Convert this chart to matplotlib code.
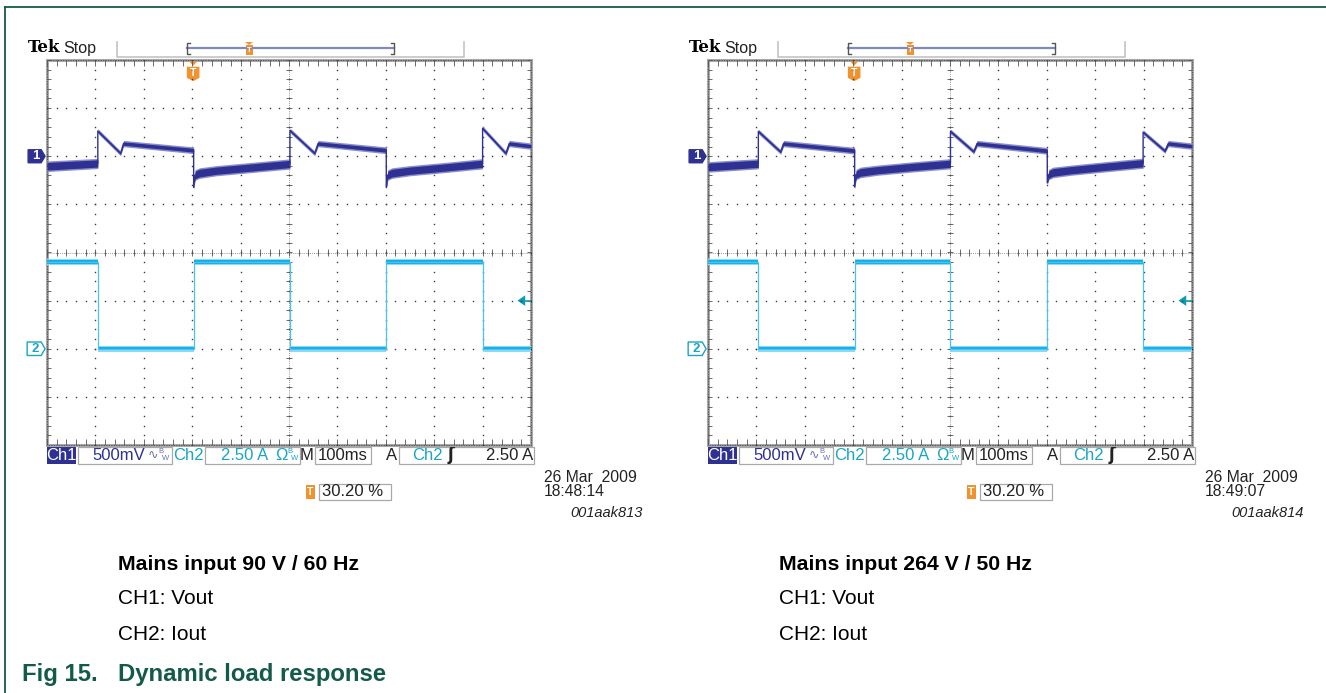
import matplotlib.pyplot as plt
from matplotlib.patches import Rectangle, Polygon
from matplotlib.collections import LineCollection
import numpy as np

W, H = 1326, 693

# ---- values (time in ms, 100 ms/div) ----
# CH1 = Vout, mV relative to the channel 1 marker (500 mV/div)
ch1_t_90v = [0, 105, 105, 152, 158, 303, 303, 306, 315, 350, 420, 502, 502, 553, 560, 701,
             701, 704, 713, 750, 820, 900, 900, 948, 955, 1000]
ch1_mv_90v = [-104, -75, 262, 30, 132, 62, -325, -195, -175, -150, -118, -80, 268, 30, 132, 62,
              -325, -195, -175, -150, -118, -78, 290, 30, 132, 105]
ch1_t_264v = [0, 104, 104, 150, 156, 303, 303, 306, 315, 350, 420, 501, 501, 549, 556, 701,
              701, 704, 713, 750, 820, 899, 899, 944, 951, 1000]
ch1_mv_264v = [-111, -78, 258, 45, 132, 58, -320, -190, -168, -145, -112, -78, 258, 48, 132, 56,
               -277, -190, -168, -145, -110, -72, 250, 55, 132, 105]
# half width of the noisy trace, mV
ch1_band = [40, 38, 10, 10, 18, 20, 6, 40, 40, 38, 38, 38, 10, 10, 18, 20,
            6, 40, 40, 38, 38, 38, 10, 10, 18, 18]

# CH2 = Iout, A (2.50 A/div)
ch2_t_90v = [0, 105, 105, 303, 303, 502, 502, 701, 701, 900, 900, 1000]
ch2_t_264v = [0, 104, 104, 303, 303, 501, 501, 701, 701, 899, 899, 1000]
ch2_amp = [4.5, 4.5, 0.0, 0.0, 4.5, 4.5, 0.0, 0.0, 4.5, 4.5, 0.0, 0.0]

trig_ms = 302
trig_level_a = 2.5

captions = ["Mains input 90 V / 60 Hz", "Mains input 264 V / 50 Hz"]
times = ["18:48:14", "18:49:07"]
codes = ["001aak813", "001aak814"]
date = "26 Mar  2009"

CH1C = '#2e3192'
CH2C = '#12b0e8'
CH2T = '#19a5c4'
ORANGE = '#f0922e'
GREEN = '#135a48'
FONT = 'Liberation Sans'

fig = plt.figure(figsize=(W / 100, H / 100), dpi=100)
ov = fig.add_axes([0, 0, 1, 1])
ov.set_xlim(0, W)
ov.set_ylim(H, 0)
ov.axis('off')

# page frame
ov.plot([5, W], [7, 7], color=GREEN, lw=1.3)
ov.plot([5, 5], [7, H], color=GREEN, lw=1.3)


def txt(x, y, s, **kw):
    kw.setdefault('family', FONT)
    kw.setdefault('va', 'center')
    ov.text(x, y, s, **kw)


def scope(dx, ch1_t, ch1_mv, ch2_t, time_s, code, caption):
    gx0, gy0, gw, gh = 47 + dx, 60, 484, 385
    ax = fig.add_axes([gx0 / W, 1 - (gy0 + gh) / H, gw / W, gh / H])
    ax.set_xlim(0, 1000)
    ax.set_ylim(-4, 4)
    ax.axis('off')

    xs = np.arange(0, 1001, 20)
    ys = np.arange(-4, 4.001, 0.2)
    dot = dict(ls='none', marker='s', ms=1.0, mew=0, color='#3a3a3a')
    for k in range(1, 10):
        ax.plot(np.full(len(ys), k * 100), ys, **dot)
    for j in range(-3, 4):
        ax.plot(xs, np.full(len(xs), j), **dot)
    # centre lines with ticks
    ax.plot([500, 500], [-4, 4], color='#777777', lw=0.6, ls=(0, (1, 1.5)))
    ax.plot([0, 1000], [0, 0], color='#777777', lw=0.6, ls=(0, (1, 1.5)))
    segs = [[(494, y), (506, y)] for y in ys] + [[(x, -0.07), (x, 0.07)] for x in xs]
    # edge ticks
    segs += [[(0, y), (8, y)] for y in ys] + [[(992, y), (1000, y)] for y in ys]
    segs += [[(x, 3.88), (x, 4)] for x in xs] + [[(x, -4), (x, -3.88)] for x in xs]
    ax.add_collection(LineCollection(segs, colors='#555555', linewidths=0.6))
    ax.add_patch(Rectangle((0, -4), 1000, 8, fill=False, ec='#a8a8a8', lw=2.2, clip_on=False))
    ax.add_patch(Rectangle((0, -4), 1000, 8, fill=False, ec='#333333', lw=0.6,
                           ls=(0, (1, 1)), clip_on=False))

    # channel 1 trace (solid core plus lighter fringe of the noise)
    t1 = np.array(ch1_t)
    v1 = 2 + np.array(ch1_mv) / 500
    b1 = np.array(ch1_band) / 500
    ax.fill_between(t1, v1 - b1 - 0.03, v1 + b1 + 0.03, color='#8a8fcb', lw=0, zorder=4)
    ax.fill_between(t1, v1 - b1, v1 + b1, color=CH1C, lw=0, zorder=5)
    ax.plot(t1, v1, color=CH1C, lw=1.0, zorder=5)

    # channel 2 trace
    t2 = np.array(ch2_t)
    v2 = -2 + np.array(ch2_amp) / 2.5
    ax.fill_between(t2, v2 - 0.06, v2 + 0.06, color='#8fd9f5', lw=0, zorder=4)
    ax.fill_between(t2, v2 - 0.035, v2 + 0.035, color=CH2C, lw=0, zorder=5)
    ax.plot(t2, v2, color='#4cc3ee', lw=0.9, zorder=5)

    # channel markers
    ax.add_patch(Polygon([(-39, 1.865), (-12, 1.865), (-4, 2), (-12, 2.135), (-39, 2.135)],
                         closed=True, fc=CH1C, ec=CH1C, clip_on=False))
    ax.text(-23, 2, "1", color='white', fontsize=9.5, fontweight='bold', family=FONT,
            ha='center', va='center')
    ax.add_patch(Polygon([(-41, -2.14), (-12, -2.14), (-4, -2), (-12, -1.86), (-41, -1.86)],
                         closed=True, fc='white', ec=CH2T, lw=1, clip_on=False))
    ax.text(-24, -2, "2", color=CH2T, fontsize=9.5, fontweight='bold', family=FONT,
            ha='center', va='center')
    # trigger level arrow
    ylev = -2 + trig_level_a / 2.5
    ax.add_patch(Polygon([(972, ylev), (988, ylev + 0.11), (988, ylev - 0.11)],
                         closed=True, fc='#0a9cb4', ec='none', clip_on=False))
    ax.plot([986, 1000], [ylev, ylev], color='#0a9cb4', lw=1.2)
    # trigger position marker
    ax.add_patch(Polygon([(294, 3.97), (310, 3.97), (302, 3.88)], closed=True,
                         fc=ORANGE, ec='none', clip_on=False))
    ax.add_patch(Polygon([(289, 3.86), (315, 3.86), (315, 3.63), (302, 3.56), (289, 3.63)],
                         closed=True, fc=ORANGE, ec='none', clip_on=False))
    ax.text(302, 3.73, "T", color='white', fontsize=7.5, fontweight='bold', family=FONT,
            ha='center', va='center')

    # header
    txt(28 + dx, 48, "Tek", fontsize=12, fontweight='bold', family='DejaVu Serif')
    txt(63 + dx, 48, "Stop", fontsize=11.5, color='#222222')
    ov.plot([117 + dx, 117 + dx, 464 + dx, 464 + dx], [42, 57, 57, 42], color='#c4c4c4', lw=1.2)
    ov.plot([187 + dx, 394 + dx], [48, 48], color='#8088c0', lw=1.6)
    for bx, d in [(187, 3), (394, -3)]:
        ov.plot([bx + dx + d, bx + dx, bx + dx, bx + dx + d], [43, 43, 54, 54], color='#555555', lw=1)
    ov.add_patch(Polygon([(245 + dx, 42), (253 + dx, 42), (249 + dx, 45)], closed=True, fc=ORANGE))
    ov.add_patch(Rectangle((245.5 + dx, 45), 7, 10, fc=ORANGE, ec='none'))
    txt(249 + dx, 50, "T", fontsize=5.5, color='white', fontweight='bold', ha='center')

    # status bar
    yb, hb, yc = 447, 17, 455.5
    fs = 12
    ov.add_patch(Rectangle((46.5 + dx, yb), 29.5, hb, fc=CH1C, ec='none'))
    txt(61 + dx, yc, "Ch1", fontsize=fs, color='white', ha='center')
    for bx, bw in [(78, 94), (205, 95), (315, 56), (399, 135)]:
        ov.add_patch(Rectangle((bx + dx, yb), bw, hb, fill=False, ec='#a9a9a9', lw=0.9))
    txt(92 + dx, yc, "500mV", fontsize=fs, color=CH1C)
    txt(148 + dx, yc, "\u223f", fontsize=9, color='#6a70b8', family='DejaVu Sans')
    txt(158 + dx, yc - 4, "B", fontsize=5.5, color='#6a70b8')
    txt(162 + dx, yc + 3, "W", fontsize=5.5, color='#6a70b8')
    txt(173 + dx, yc, "Ch2", fontsize=fs, color=CH2T)
    txt(221 + dx, yc, "2.50 A", fontsize=fs, color=CH2T)
    txt(275 + dx, yc, "\u03a9", fontsize=fs, color=CH2T)
    txt(287 + dx, yc - 4, "B", fontsize=5.5, color=CH2T)
    txt(291 + dx, yc + 3, "W", fontsize=5.5, color=CH2T)
    txt(300 + dx, yc, "M", fontsize=fs, color='#222222')
    txt(343 + dx, yc, "100ms", fontsize=fs, color='#222222', ha='center')
    txt(386 + dx, yc, "A", fontsize=fs, color='#222222')
    txt(412 + dx, yc, "Ch2", fontsize=fs, color=CH2T)
    txt(448 + dx, yc, "\u0283", fontsize=fs, color='#222222', fontweight='bold',
        family='DejaVu Sans')
    txt(533 + dx, yc, "2.50 A", fontsize=fs, color='#222222', ha='right')

    # trigger position / date / code
    ov.add_patch(Rectangle((306 + dx, 485), 9, 14, fc=ORANGE, ec='none'))
    txt(310.5 + dx, 492, "T", fontsize=7.5, color='white', fontweight='bold', ha='center')
    ov.add_patch(Rectangle((319 + dx, 484), 72, 16, fill=False, ec='#a9a9a9', lw=0.9))
    txt(322 + dx, 492, "30.20 %", fontsize=fs, color='#222222')
    txt(544 + dx, 477, date, fontsize=11.3, color='#222222')
    txt(544 + dx, 492, time_s, fontsize=11.3, color='#222222')
    txt(643 + dx, 513, code, fontsize=10.5, style='italic', color='#222222', ha='right')

    # caption
    cx = 118 + dx
    txt(cx, 565, caption, fontsize=15.3, fontweight='bold', color='black')
    txt(cx, 599, "CH1: Vout", fontsize=15, color='black')
    txt(cx, 634, "CH2: Iout", fontsize=15, color='black')


scope(0, ch1_t_90v, ch1_mv_90v, ch2_t_90v, times[0], codes[0], captions[0])
scope(661, ch1_t_264v, ch1_mv_264v, ch2_t_264v, times[1], codes[1], captions[1])

txt(22, 675, "Fig 15.", fontsize=17.2, fontweight='bold', color=GREEN)
txt(118, 675, "Dynamic load response", fontsize=17.2, fontweight='bold', color=GREEN)

fig.savefig('out.png', dpi=100)
